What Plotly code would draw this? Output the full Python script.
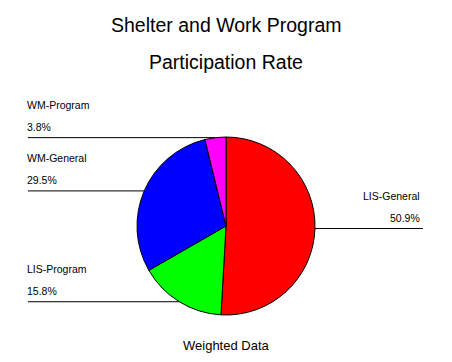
import math
import plotly.graph_objects as go

# ---- data ----
categories = ["LIS-General", "LIS-Program", "WM-General", "WM-Program"]
values = [50.9, 15.8, 29.5, 3.8]
colors = ["#ff0000", "#00ff00", "#0000ff", "#ff00ff"]
value_labels = ["50.9%", "15.8%", "29.5%", "3.8%"]

OFF = 8  # page body margin
W, H = 452 - OFF, 362 - OFF
# pie geometry (page pixels)
cx, cy, r = 226, 226, 89
left_x, right_x = 28, 423


def X(px):
    return (px - OFF) / W


def Y(py):
    return 1 - (py - OFF) / H


fig = go.Figure()
fig.add_trace(go.Pie(
    labels=categories, values=values, sort=False, direction="clockwise",
    rotation=0, marker=dict(colors=colors, line=dict(color="black", width=1)),
    textinfo="none", hoverinfo="none", showlegend=False,
    domain=dict(x=[X(cx - r), X(cx + r)], y=[Y(cy + r), Y(cy - r)]),
))

font = dict(family="Arial, Liberation Sans, sans-serif", color="black")
shapes = []
annotations = []
total = sum(values)
cum = 0
for cat, v, lab in zip(categories, values, value_labels):
    mid = (cum + v / 2) / total * 2 * math.pi
    cum += v
    px = cx + r * math.sin(mid)
    py = cy - r * math.cos(mid)
    right = math.sin(mid) > 0
    x_end = right_x if right else left_x
    shapes.append(dict(type="line", xref="paper", yref="paper",
                       x0=X(px), x1=X(x_end), y0=Y(py), y1=Y(py),
                       line=dict(color="black", width=1)))
    anchor = "right" if right else "left"
    tx = X(x_end + (-1 if right else -3))
    annotations.append(dict(text=cat, x=tx, y=Y(py - 33), xref="paper", yref="paper",
                            xanchor=anchor, yanchor="middle", showarrow=False,
                            font=dict(size=10.5, **font)))
    annotations.append(dict(text=lab, x=tx, y=Y(py - 11), xref="paper", yref="paper",
                            xanchor=anchor, yanchor="middle", showarrow=False,
                            font=dict(size=10.5, **font)))

annotations.append(dict(text="Shelter and Work Program", x=X(226), y=Y(25), xref="paper", yref="paper",
                        xanchor="center", yanchor="middle", showarrow=False, font=dict(size=19.5, **font)))
annotations.append(dict(text="Participation Rate", x=X(226), y=Y(62), xref="paper", yref="paper",
                        xanchor="center", yanchor="middle", showarrow=False, font=dict(size=19.5, **font)))
annotations.append(dict(text="Weighted Data", x=X(226), y=Y(345), xref="paper", yref="paper",
                        xanchor="center", yanchor="middle", showarrow=False, font=dict(size=13, **font)))

fig.update_layout(width=W, height=H, margin=dict(l=0, r=0, t=0, b=0),
                  paper_bgcolor="white", plot_bgcolor="white",
                  shapes=shapes, annotations=annotations)
fig.write_html("out.html")
